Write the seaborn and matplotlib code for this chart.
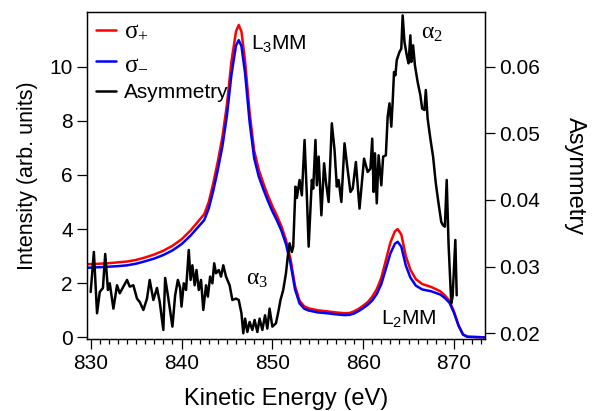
import matplotlib
matplotlib.use('Agg')
import pandas as pd
import matplotlib.pyplot as plt
import seaborn as sns
from matplotlib.ticker import MultipleLocator

# intensity spectra (left axis)
energy = [829.6, 831, 832, 833, 834, 835, 836, 837, 838, 839, 840, 841, 841.5, 842, 842.5,
          843, 843.5, 844, 844.5, 845, 845.5, 846, 846.3, 846.6, 847, 847.5, 848, 848.5,
          849, 849.5, 850, 850.5, 851, 851.5, 852, 852.5, 853, 853.5, 854, 855, 856, 857,
          858, 858.5, 859, 859.5, 860, 860.5, 861, 861.5, 862, 862.5, 863, 863.5, 863.8,
          864.2, 864.7, 865.2, 865.8, 866.5, 867.5, 868.5, 869, 869.5, 870, 870.5, 871,
          871.5, 873.3]
sigma_plus = [2.70, 2.72, 2.74, 2.77, 2.80, 2.86, 2.95, 3.06, 3.20, 3.38, 3.62, 3.95, 4.15,
              4.35, 4.55, 5.0, 5.7, 6.5, 7.4, 8.6, 10.2, 11.3, 11.54, 11.3, 10.2, 8.3, 6.9,
              6.2, 5.7, 5.25, 4.85, 4.5, 4.1, 3.6, 2.9, 1.9, 1.35, 1.15, 1.07, 1.0, 0.96,
              0.92, 0.89, 0.9, 0.96, 1.05, 1.17, 1.3, 1.5, 1.78, 2.2, 2.85, 3.5, 3.92, 4.0,
              3.8, 3.0, 2.5, 2.15, 1.97, 1.86, 1.7, 1.55, 1.35, 0.95, 0.45, 0.1, 0.02, 0.0]
sigma_minus = [2.57, 2.59, 2.61, 2.63, 2.66, 2.72, 2.81, 2.91, 3.04, 3.21, 3.44, 3.76, 3.95,
               4.14, 4.33, 4.76, 5.42, 6.19, 7.05, 8.19, 9.71, 10.78, 10.98, 10.76, 9.76,
               7.95, 6.62, 5.95, 5.48, 5.05, 4.66, 4.32, 3.94, 3.45, 2.73, 1.77, 1.25, 1.06,
               0.99, 0.92, 0.89, 0.85, 0.82, 0.83, 0.88, 0.97, 1.08, 1.2, 1.36, 1.6, 1.97,
               2.53, 3.1, 3.46, 3.53, 3.35, 2.65, 2.21, 1.91, 1.77, 1.70, 1.58, 1.45, 1.28,
               0.91, 0.43, 0.1, 0.02, 0.0]

# asymmetry (right axis)
asym_energy = [830.0, 830.35, 830.7, 831.0, 831.35, 831.6, 831.9, 832.1, 832.5, 832.9, 833.2,
               833.6, 834.0, 834.3, 834.7, 835.1, 835.4, 835.8, 836.2, 836.5, 836.9, 837.3,
               837.6, 838.0, 838.2, 838.5, 839.0, 839.3, 839.6, 839.85, 840.0, 840.25, 840.5,
               840.8, 841.0, 841.2, 841.45, 841.65, 841.9, 842.15, 842.4, 842.7, 842.9,
               843.15, 843.4, 843.6, 843.8, 844.1, 844.35, 844.6, 844.9, 845.3, 845.6, 846.0,
               846.3, 846.6, 846.8, 847.0, 847.25, 847.5, 847.8, 848.05, 848.35, 848.6, 848.9,
               849.2, 849.45, 849.7, 850.0, 850.4, 850.7, 850.9, 851.2, 851.5, 851.7, 851.9,
               852.15, 852.3, 852.55, 852.7, 853.0, 853.25, 853.55, 853.8, 854.0, 854.35,
               854.5, 854.75, 854.9, 855.1, 855.4, 855.7, 855.9, 856.2, 856.55, 856.85, 857.1,
               857.3, 857.6, 857.95, 858.25, 858.6, 858.85, 859.2, 859.6, 860.1, 860.5, 860.8,
               861.0, 861.15, 861.3, 861.5, 861.7, 862.0, 862.2, 862.5, 862.7, 862.9, 863.1,
               863.25, 863.4, 863.55, 863.7, 864.0, 864.2, 864.35, 864.55, 864.8, 865.0,
               865.2, 865.3, 865.5, 865.7, 866.0, 866.3, 866.5, 866.75, 866.9, 867.1, 867.4,
               867.7, 868.0, 868.3, 868.6, 868.8, 869.0, 869.2, 869.4, 869.7, 869.85, 870.15,
               870.3]
asymmetry = [0.0262, 0.0322, 0.0230, 0.0262, 0.0268, 0.0319, 0.0265, 0.0275, 0.0237, 0.0272,
             0.0260, 0.0270, 0.0280, 0.0270, 0.0272, 0.0252, 0.0247, 0.0235, 0.0252, 0.0280,
             0.0250, 0.0268, 0.0247, 0.0205, 0.0283, 0.0257, 0.0210, 0.0257, 0.0280, 0.0268,
             0.0240, 0.0275, 0.0265, 0.0325, 0.0280, 0.0302, 0.0272, 0.0295, 0.0265, 0.0280,
             0.0235, 0.0272, 0.0255, 0.0285, 0.0275, 0.0305, 0.0290, 0.0295, 0.0285, 0.0302,
             0.0285, 0.0272, 0.0250, 0.0252, 0.0250, 0.0230, 0.0200, 0.0222, 0.0202, 0.0217,
             0.0205, 0.0220, 0.0202, 0.0222, 0.0205, 0.0227, 0.0207, 0.0237, 0.0210, 0.0215,
             0.0235, 0.0250, 0.0265, 0.0290, 0.0315, 0.0335, 0.0322, 0.0330, 0.0420, 0.0403,
             0.0430, 0.0407, 0.0490, 0.0407, 0.0330, 0.0430, 0.0417, 0.0490, 0.0422, 0.0465,
             0.0377, 0.0455, 0.0427, 0.0397, 0.0515, 0.0475, 0.0420, 0.0430, 0.0397, 0.0485,
             0.0450, 0.0412, 0.0417, 0.0457, 0.0387, 0.0462, 0.0442, 0.0447, 0.0492, 0.0412,
             0.0470, 0.0395, 0.0467, 0.0422, 0.0465, 0.0467, 0.0525, 0.0545, 0.0510, 0.0547,
             0.0592, 0.0587, 0.0610, 0.0622, 0.0627, 0.0677, 0.0637, 0.0617, 0.0605, 0.0647,
             0.0607, 0.0632, 0.0602, 0.0577, 0.0557, 0.0537, 0.0535, 0.0565, 0.0522, 0.0492,
             0.0465, 0.0425, 0.0395, 0.0367, 0.0362, 0.0360, 0.0430, 0.0335, 0.0245, 0.0255,
             0.0340, 0.0257]

sns.set_theme(style='ticks')
plt.rcParams['font.family'] = ['Liberation Sans', 'DejaVu Sans']
plt.rcParams['mathtext.default'] = 'regular'
plt.rcParams['axes.linewidth'] = 0.9
plt.rcParams['axes.edgecolor'] = 'black'
plt.rcParams['text.color'] = 'black'
plt.rcParams['axes.labelcolor'] = 'black'
plt.rcParams['xtick.color'] = 'black'
plt.rcParams['ytick.color'] = 'black'

spec = pd.DataFrame({'E': energy, 'plus': sigma_plus, 'minus': sigma_minus})
asym = pd.DataFrame({'E': asym_energy, 'A': asymmetry})

fig = plt.figure(figsize=(5.92, 4.11), dpi=100)
ax = fig.add_axes([0.1475, 0.174, 0.6712, 0.7968])
sns.lineplot(data=spec, x='E', y='plus', ax=ax, color='#ff0000', lw=1.8, label='σ$_{+}$', estimator=None)
sns.lineplot(data=spec, x='E', y='minus', ax=ax, color='#0000ff', lw=1.8, label='σ$_{-}$', estimator=None)
ax.set_xlim(829.63, 873.38)
ax.set_ylim(-0.08, 12.02)
ax.set_yticks([0, 2, 4, 6, 8, 10])
ax.set_xticks([830, 840, 850, 860, 870])
ax.xaxis.set_minor_locator(MultipleLocator(1))
ax.tick_params(axis='both', which='major', direction='out', length=7, width=0.9,
               labelsize=15, colors='black')
ax.tick_params(axis='x', which='minor', direction='out', length=3.5, width=0.9)
ax.set_xlabel('Kinetic Energy (eV)', fontsize=17, labelpad=11)
ax.set_ylabel('Intensity (arb. units)', fontsize=15.5, labelpad=8)

ax2 = ax.twinx()
sns.lineplot(data=asym, x='E', y='A', ax=ax2, color='black', lw=1.8, label='Asymmetry', estimator=None)
ax2.set_ylim(0.01907, 0.0682)
ax2.set_yticks([0.02, 0.03, 0.04, 0.05, 0.06])
ax2.set_yticklabels(['0.02', '0.03', '0.04', '0.05', '0.06'])
ax2.tick_params(axis='y', direction='out', length=7, width=0.9, labelsize=15, colors='black')
ax2.set_ylabel('Asymmetry', fontsize=17, rotation=270, labelpad=33)
ax2.get_legend().remove()

h1, l1 = ax.get_legend_handles_labels()
h2, l2 = ax2.get_legend_handles_labels()
leg = ax.legend(h1 + h2, l1 + l2, loc='upper left', frameon=False, fontsize=15,
                handlelength=1.0, handletextpad=0.35, labelspacing=0.45,
                borderaxespad=0.3, borderpad=0.1)
for t in leg.get_texts()[:2]:
    t.set_family(['Liberation Serif'])
    t.set_fontsize(18)

ax.text(847.7, 10.61, 'L$_3$MM', fontsize=15)
ax.text(862.0, 0.45, 'L$_2$MM', fontsize=15)
ax.text(847.1, 1.93, 'α$_3$', fontsize=17, family=['Liberation Serif'])
ax.text(866.4, 11.05, 'α$_2$', fontsize=17, family=['Liberation Serif'])

fig.savefig('out.png', dpi=100)
